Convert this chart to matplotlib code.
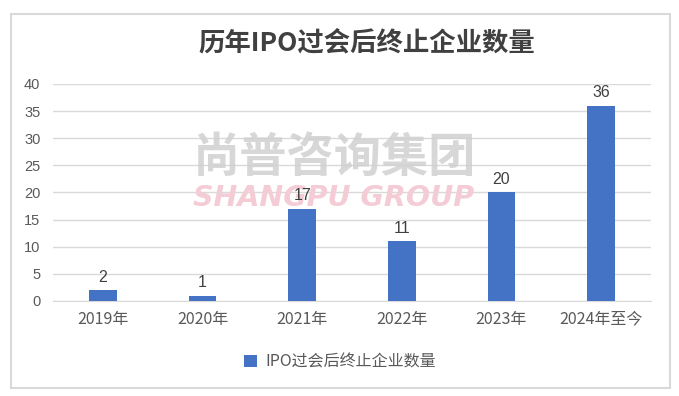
import matplotlib
matplotlib.use("Agg")
import matplotlib.pyplot as plt
from matplotlib.patches import Rectangle

plt.rcParams["font.family"] = ["Noto Sans CJK SC", "DejaVu Sans"]

years = ["2019年", "2020年", "2021年", "2022年", "2023年", "2024年至今"]
counts = [2, 1, 17, 11, 20, 36]
yticks = [0, 5, 10, 15, 20, 25, 30, 35, 40]
title = "历年IPO过会后终止企业数量"
series_name = "IPO过会后终止企业数量"

bar_color = "#4472C4"
grid_color = "#d9d9d9"
text_color = "#595959"

fig = plt.figure(figsize=(6.79, 3.96), dpi=100)
ax = fig.add_axes([53 / 679, 1 - 301 / 396, 598 / 679, 217 / 396])

x = range(len(years))
bars = ax.bar(x, counts, width=0.28, color=bar_color, zorder=3, label=series_name)
ax.bar_label(bars, padding=4, fontsize=11.5, color="#404040",
             family=["Liberation Sans", "DejaVu Sans"])

ax.set_xlim(-0.5, len(years) - 0.5)
ax.set_ylim(0, 40)
ax.set_yticks(yticks)
ax.set_xticks(list(x))
ax.set_xticklabels(years, fontsize=11.5, color=text_color)
ax.tick_params(axis="y", length=0, pad=9, labelsize=10.5, labelcolor=text_color)
ax.tick_params(axis="x", length=0, pad=7)
for lab in ax.get_yticklabels():
    lab.set_family(["Liberation Sans", "DejaVu Sans"])
ax.grid(axis="y", color=grid_color, linewidth=1, zorder=0)
for side in ["left", "right", "top"]:
    ax.spines[side].set_visible(False)
ax.spines["bottom"].set_color(grid_color)

# watermark
ax.text(0.47, 0.66, "尚普咨询集团", transform=ax.transAxes, ha="center", va="center",
        fontsize=34, fontweight="bold", color="#d0d0d0", alpha=0.85, zorder=2)
ax.text(0.47, 0.475, "SHANGPU GROUP", transform=ax.transAxes, ha="center", va="center",
        fontsize=20.5, fontweight="bold", style="italic", color="#f4ccd5",
        family=["DejaVu Sans"], zorder=2)

fig.text(367 / 679, 1 - 43 / 396, title, ha="center", va="center",
         fontsize=19, fontweight="bold", color="#404040")

fig.legend(handles=[bars], labels=[series_name], loc="center",
           bbox_to_anchor=(340 / 679, 1 - 362 / 396), frameon=False,
           handlelength=0.8, handleheight=0.8, handletextpad=0.5,
           prop={"size": 11.5}, labelcolor=text_color)

fig.patches.append(Rectangle((11 / 679, 1 - 388 / 396), 659 / 679, 374 / 396,
                             transform=fig.transFigure, fill=False,
                             edgecolor="#d9d9d9", linewidth=1.5))

fig.savefig("out.png", dpi=100)
